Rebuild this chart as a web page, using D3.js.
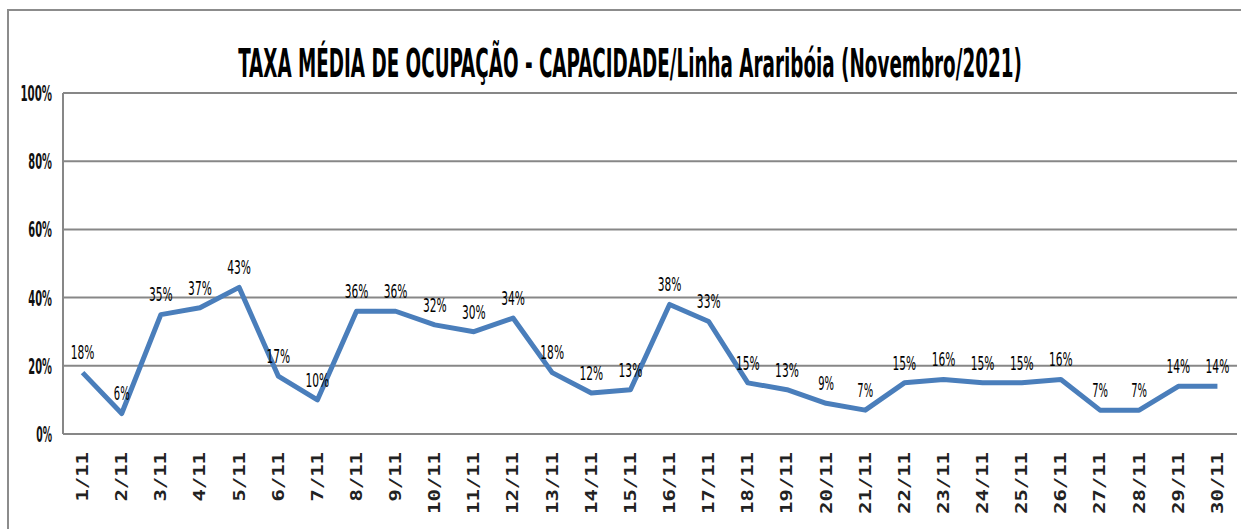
<!DOCTYPE html>
<html>
<head>
<meta charset="utf-8">
<title>Taxa média de ocupação</title>
<style>
body { margin: 0; background: #fff; }
.grid line { stroke: #878787; stroke-width: 2; }
.ylab text { font: bold 22px "DejaVu Sans Condensed", sans-serif; fill: #111; }
.xlab text { font: bold 15px "DejaVu Sans Mono", monospace; fill: #222; }
.vals text { font: 19px "DejaVu Sans Condensed", sans-serif; fill: #000; }
</style>
</head>
<body>
<svg width="1241" height="529"></svg>
<script src="https://cdn.jsdelivr.net/npm/d3@7"></script>
<script>

var titleText = "TAXA MÉDIA DE OCUPAÇÃO - CAPACIDADE/Linha Araribóia (Novembro/2021)";

var days = ["1/11","2/11","3/11","4/11","5/11","6/11","7/11","8/11","9/11","10/11",
            "11/11","12/11","13/11","14/11","15/11","16/11","17/11","18/11","19/11","20/11",
            "21/11","22/11","23/11","24/11","25/11","26/11","27/11","28/11","29/11","30/11"];

var occupancy = [0.18,0.06,0.35,0.37,0.43,0.17,0.10,0.36,0.36,0.32,
                 0.30,0.34,0.18,0.12,0.13,0.38,0.33,0.15,0.13,0.09,
                 0.07,0.15,0.16,0.15,0.15,0.16,0.07,0.07,0.14,0.14];

var yTicks = [0, 0.2, 0.4, 0.6, 0.8, 1];

var svg = d3.select("svg");

// plot area
var plotLeft = 63, plotRight = 1237, plotTop = 93, plotBottom = 434;

var x = d3.scalePoint().domain(days).range([plotLeft, plotRight]).padding(0.5);
var y = d3.scaleLinear().domain([0, 1]).range([plotBottom, plotTop]);
var pct = d3.format(".0%");

// the original font is very narrow: squash each text horizontally
// to a target width, keeping its anchor point at (px, py)
function squash(sel, px, py, width) {
  sel.each(function(d, i) {
    var t = d3.select(this),
        w = typeof width === "function" ? width.call(this, d, i) : width,
        k = w / this.getComputedTextLength();
    t.attr("x", 0).attr("y", 0)
     .attr("transform", "translate(" + px(d, i) + "," + py(d, i) + ") scale(" + k + ",1)");
  });
}

// outer chart frame
svg.append("rect")
    .attr("x", 8).attr("y", 10)
    .attr("width", 1250).attr("height", 540)
    .attr("fill", "none")
    .attr("stroke", "#8c8c8c")
    .attr("stroke-width", 2);

// title
svg.append("text")
    .attr("text-anchor", "middle")
    .style("font", "bold 39px 'DejaVu Sans Condensed', sans-serif")
    .style("fill", "#000")
    .text(titleText)
    .call(squash, function() { return 630; }, function() { return 77; }, 784);

// gridlines
svg.append("g").attr("class", "grid")
  .selectAll("line")
  .data(yTicks)
  .enter().append("line")
    .attr("x1", plotLeft).attr("x2", plotRight)
    .attr("y1", function(d) { return y(d); })
    .attr("y2", function(d) { return y(d); });

// left axis line
svg.append("line")
    .attr("x1", plotLeft).attr("x2", plotLeft)
    .attr("y1", plotTop).attr("y2", plotBottom)
    .attr("stroke", "#878787").attr("stroke-width", 2);

// y labels
svg.append("g").attr("class", "ylab")
  .selectAll("text")
  .data(yTicks)
  .enter().append("text")
    .attr("dy", "0.36em")
    .attr("text-anchor", "end")
    .text(function(d) { return pct(d); })
    .call(squash, function() { return 52; }, function(d) { return y(d); },
          function() { return this.textContent.length * 7.9; });

// x labels, rotated
svg.append("g").attr("class", "xlab")
  .selectAll("text")
  .data(days)
  .enter().append("text")
    .attr("transform", function(d) { return "translate(" + x(d) + ",452) rotate(-90)"; })
    .attr("dy", "0.36em")
    .attr("text-anchor", "end")
    .attr("textLength", function(d) { return d.length * 12.4; })
    .attr("lengthAdjust", "spacingAndGlyphs")
    .text(function(d) { return d; });

// the line
var line = d3.line()
    .x(function(d, i) { return x(days[i]); })
    .y(function(d) { return y(d); });

svg.append("path")
    .datum(occupancy)
    .attr("d", line)
    .attr("fill", "none")
    .attr("stroke", "#4a7ebb")
    .attr("stroke-width", 5)
    .attr("stroke-linejoin", "round");

// data labels
svg.append("g").attr("class", "vals")
  .selectAll("text")
  .data(occupancy)
  .enter().append("text")
    .attr("dy", "0.36em")
    .attr("text-anchor", "middle")
    .text(function(d) { return pct(d); })
    .call(squash, function(d, i) { return x(days[i]); }, function(d) { return y(d) - 20; },
          function() { return this.textContent.length * 7.9; });

</script>
</body>
</html>
